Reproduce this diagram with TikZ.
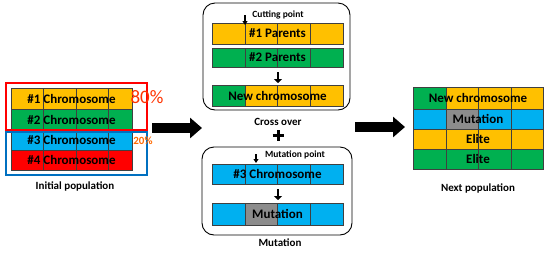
\documentclass[tikz,border=0pt]{standalone}
\usepackage{fontspec}
\setmainfont{Carlito}
\usetikzlibrary{arrows.meta}
\definecolor{corange}{HTML}{FFC000}
\definecolor{cgreen}{HTML}{00B050}
\definecolor{cblue}{HTML}{00B0F0}
\definecolor{cred}{HTML}{FF0000}
\definecolor{cgray}{HTML}{8C8C8C}
\definecolor{cboxblue}{HTML}{0070C0}
\definecolor{pcta}{HTML}{FF3300}
\definecolor{pctb}{HTML}{FF6A00}
\newcommand\setxs[5]{\def\xa{#1}\def\xb{#2}\def\xc{#3}\def\xd{#4}\def\xe{#5}}
\newcommand\chrow[8]{%
  \fill[#4] (\xa,#2) rectangle (\xb,#3);
  \fill[#5] (\xb,#2) rectangle (\xc,#3);
  \fill[#6] (\xc,#2) rectangle (\xd,#3);
  \fill[#7] (\xd,#2) rectangle (\xe,#3);
  \draw[gridline] (\xa,#2) rectangle (\xe,#3);
  \draw[gridline] (\xb,#2) -- (\xb,#3) (\xc,#2) -- (\xc,#3) (\xd,#2) -- (\xd,#3);
  \node[rowtext] (#1) at ({(\xa+\xe)/2},{(#2+#3)/2}) {#8};}
\begin{document}
\begin{tikzpicture}[x=1pt,y=-1pt,
  gridline/.style={draw=black!75,line width=0.6pt},
  rowtext/.style={inner sep=0pt,font=\fontsize{13}{15}\selectfont\bfseries},
  caption/.style={inner sep=0pt,font=\fontsize{11}{13}\selectfont\bfseries},
  smalllabel/.style={inner sep=0pt,font=\fontsize{9.5}{11}\selectfont\bfseries},
  groupbox/.style={draw=black,line width=0.9pt,rounded corners=12pt},
  bigarrow/.style={line width=10pt,-{Triangle[length=12pt,width=20pt]}},
  midarrow/.style={line width=2.5pt,-{Triangle[length=4pt,width=8pt]}},
  tinyarrow/.style={line width=1.3pt,-{Triangle[length=4pt,width=5pt]}}]
\useasboundingbox (0,0) rectangle (550,255);
\fill[white] (0,0) rectangle (550,255);

% ---------- Initial population ----------
\setxs{11}{43}{76}{108}{132}
\chrow{c1}{88}{109}{corange}{corange}{corange}{corange}{\#1 Chromosome}
\chrow{c2}{109}{130}{cgreen}{cgreen}{cgreen}{cgreen}{\#2 Chromosome}
\chrow{c3}{130}{150}{cblue}{cblue}{cblue}{cblue}{\#3 Chromosome}
\chrow{c4}{150}{170}{cred}{cred}{cred}{cred}{\#4 Chromosome}
\draw[cred,line width=1.6pt] (6,83) rectangle (147,130);
\draw[cboxblue,line width=1.6pt] (6,132) rectangle (147,175);
\node[inner sep=0pt,text=pcta,font=\fontsize{19}{21}\selectfont] (p80) at (147,97) {80\%};
\node[inner sep=0pt,text=pctb,font=\fontsize{11}{12}\selectfont\bfseries] (p20) at (143,141) {20\%};
\node[caption] (initcap) at (75,186) {Initial population};

% ---------- Cross over ----------
\draw[groupbox] (203,3) rectangle (350,110);
\setxs{212}{245}{277}{310}{343}
\chrow{par1}{23}{44}{corange}{corange}{corange}{corange}{\#1 Parents}
\chrow{par2}{48}{67}{cgreen}{cgreen}{cgreen}{cgreen}{\#2 Parents}
\chrow{newc}{85}{106}{cgreen}{corange}{corange}{corange}{New chromosome}
\node[smalllabel] (cutlbl) at (278,14.5) {Cutting point};
\coordinate (cuttop) at (245,15);
\coordinate (cutbot) at (245,25);
\draw[tinyarrow] (cuttop) -- (cutbot);
\coordinate (xa1) at (278,72);
\coordinate (xa2) at (278,83);
\draw[midarrow] (xa1) -- (xa2);
\node[caption] (crosscap) at (278,122) {Cross over};

% plus sign
\coordinate (plc) at (278,135);
\draw[line width=3pt] ([xshift=-5.5pt]plc) -- ([xshift=5.5pt]plc);
\draw[line width=3pt] ([yshift=-5.5pt]plc) -- ([yshift=5.5pt]plc);

% ---------- Mutation ----------
\draw[groupbox] (202,147) rectangle (352,235);
\chrow{m3}{164}{184}{cblue}{cblue}{cblue}{cblue}{\#3 Chromosome}
\chrow{mut}{203}{225}{cblue}{cgray}{cblue}{cblue}{Mutation}
\node[smalllabel] (mutlbl) at (295,155) {Mutation point};
\coordinate (mtop) at (256,154);
\coordinate (mbot) at (256,163);
\draw[tinyarrow] (mtop) -- (mbot);
\coordinate (ma1) at (278,189);
\coordinate (ma2) at (278,200);
\draw[midarrow] (ma1) -- (ma2);
\node[caption] (mutcap) at (280,243) {Mutation};

% ---------- Next population ----------
\setxs{413}{446}{478}{511}{543}
\chrow{n1}{87}{109}{cgreen}{corange}{corange}{corange}{New chromosome}
\chrow{n2}{109}{129}{cblue}{cgray}{cblue}{cblue}{Mutation}
\chrow{n3}{129}{149}{corange}{corange}{corange}{corange}{Elite}
\chrow{n4}{149}{169}{cgreen}{cgreen}{cgreen}{cgreen}{Elite}
\node[caption] (nextcap) at (478,188) {Next population};

% ---------- big arrows ----------
\coordinate (ba1s) at (152,128);
\coordinate (ba1e) at (202,128);
\draw[bigarrow] (ba1s) -- (ba1e);
\coordinate (ba2s) at (355,127);
\coordinate (ba2e) at (405,127);
\draw[bigarrow] (ba2s) -- (ba2e);
\end{tikzpicture}
\end{document}
